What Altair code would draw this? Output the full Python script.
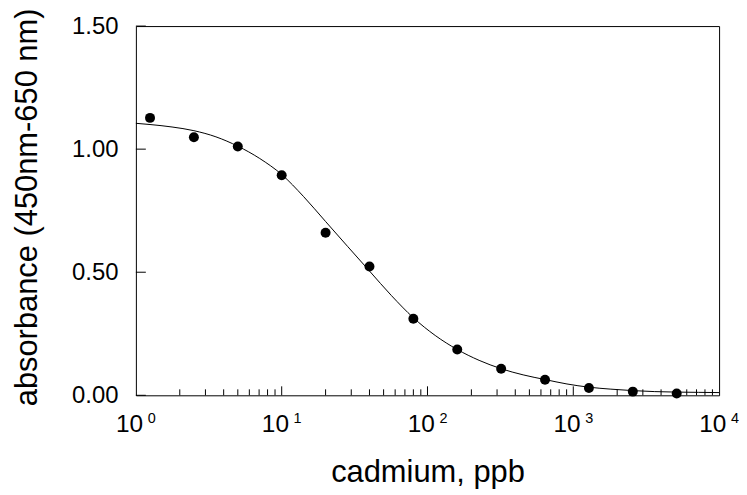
import altair as alt
import pandas as pd

# measured data points
conc = [1.25, 2.5, 5, 10, 20, 40, 80, 160, 320, 640, 1280, 2560, 5120]
absorbance = [1.127, 1.048, 1.011, 0.894, 0.660, 0.523, 0.311, 0.186, 0.108, 0.063, 0.030, 0.015, 0.007]

# fitted curve
fit_x = [1, 1.25, 1.77, 2.5, 3.54, 5, 7.07, 10, 14.1, 20, 28.3, 40, 56.6, 80, 113, 160,
         226, 320, 453, 640, 905, 1280, 1810, 2560, 3620, 5120, 7240, 10000]
fit_y = [1.105, 1.100, 1.090, 1.075, 1.050, 1.012, 0.962, 0.897, 0.808, 0.706, 0.605,
         0.505, 0.405, 0.315, 0.243, 0.186, 0.142, 0.108, 0.083, 0.064, 0.046, 0.033,
         0.025, 0.019, 0.015, 0.013, 0.012, 0.011]

# axis ticks
major_ticks = [1, 10, 100, 1000, 10000]
tick_base = ["10", "10", "10", "10", "10"]
exponents = ["0", "1", "2", "3", "4"]
inner_major = [10, 100, 1000]
minor_ticks = [2, 3, 4, 5, 6, 7, 8, 9,
               20, 30, 40, 50, 60, 70, 80, 90,
               200, 300, 400, 500, 600, 700, 800, 900,
               2000, 3000, 4000, 5000, 6000, 7000, 8000, 9000]
y_ticks = [0.0, 0.5, 1.0, 1.5]

W, H = 586, 371
FONT = "Liberation Sans"

xs = alt.Scale(type="log", domain=[1, 10000], nice=False)
ys = alt.Scale(domain=[0, 1.5], nice=False, zero=False)

pts = pd.DataFrame({"x": conc, "y": absorbance})
fit = pd.DataFrame({"x": fit_x, "y": fit_y})
lab_df = pd.DataFrame({"x": major_ticks, "b": tick_base, "e": exponents})
minor_df = pd.DataFrame({"x": minor_ticks})
major_df = pd.DataFrame({"x": inner_major})
yt_df = pd.DataFrame({"y": y_ticks})

x_axis = alt.Axis(values=major_ticks, labels=False, ticks=False, domain=False, grid=False,
                  title="cadmium, ppb", titleFontSize=31, titleFontWeight="normal",
                  titleFont=FONT, titleColor="black", titleX=W / 2, titleY=87,
                  titleBaseline="alphabetic", titleAlign="center")
y_axis = alt.Axis(values=y_ticks, format=".2f", labelFontSize=24, labelPadding=18,
                  ticks=False, domain=False, grid=False, labelColor="black",
                  labelFlush=False, labelOverlap=False, labelFont=FONT,
                  title="absorbance (450nm-650 nm)", titleFontSize=31,
                  titleFontWeight="normal", titleFont=FONT, titleColor="black",
                  titleAngle=270, titleX=-100, titleY=181.7, titleAlign="center",
                  titleBaseline="alphabetic")

X = alt.X("x:Q", scale=xs, axis=x_axis)
Y = alt.Y("y:Q", scale=ys, axis=y_axis)

line = alt.Chart(fit).mark_line(color="black", strokeWidth=1, interpolate="monotone").encode(
    x=X, y=Y,
)
dots = alt.Chart(pts).mark_circle(color="black", opacity=1, size=100).encode(
    x=X, y=Y,
)
yt = alt.Chart(yt_df).mark_rule(color="black", strokeWidth=1).encode(
    y=Y, x=alt.value(0), x2=alt.value(10),
)
minor = alt.Chart(minor_df).mark_rule(color="black", strokeWidth=1).encode(
    x=X, y=alt.value(H), y2=alt.value(H - 6),
)
major = alt.Chart(major_df).mark_rule(color="black", strokeWidth=1).encode(
    x=X, y=alt.value(H), y2=alt.value(H - 9),
)
base_lab = alt.Chart(lab_df).mark_text(font=FONT, fontSize=24.5, color="black", dx=-6.3,
                                       align="center", baseline="alphabetic").encode(
    x=X, y=alt.value(H + 37.3), text="b:N",
)
sup = alt.Chart(lab_df).mark_text(font=FONT, fontSize=14.5, color="black", dx=16,
                                  align="center", baseline="alphabetic").encode(
    x=X, y=alt.value(H + 28.3), text="e:N",
)

chart = alt.layer(minor, major, yt, line, dots, base_lab, sup).properties(
    width=W, height=H,
    autosize=alt.AutoSizeParams(type="none"),
    padding={"left": 128.5, "top": 17, "right": 20, "bottom": 94},
).configure(font=FONT).configure_view(stroke="black", strokeWidth=1)

chart.save("out.html", embed_options={"renderer": "svg", "actions": False})
